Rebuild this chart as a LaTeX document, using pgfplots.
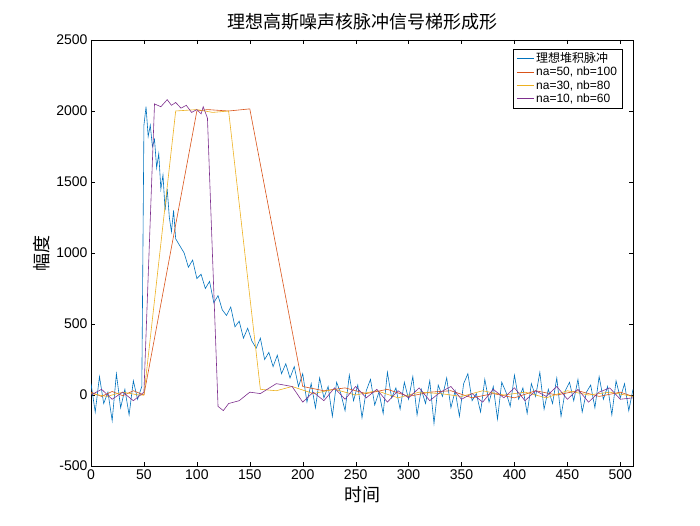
\documentclass[border=0pt]{standalone}
\usepackage{pgfplots}
\pgfplotsset{compat=1.18}
\usepackage{fontspec}
\setmainfont{Liberation Sans}
\newfontfamily\cjk{Noto Sans CJK SC}
\definecolor{mb}{RGB}{0,114,189}
\definecolor{mo}{RGB}{217,83,25}
\definecolor{my}{RGB}{237,177,32}
\definecolor{mp}{RGB}{126,47,142}
\begin{document}
\begin{tikzpicture}[x=1pt,y=1pt]
\useasboundingbox (-91,-59) rectangle (609,466);
\begin{axis}[at={(0,0)},anchor=south west,scale only axis,width=542pt,height=426pt,
 xmin=0,xmax=512,ymin=-500,ymax=2500,
 xtick={0,50,...,500},ytick={-500,0,...,2500},
 tick align=inside, axis line style={black}, tick style={black},
 ticklabel style={font=\fontsize{14}{14}\selectfont},
 /pgf/number format/assume math mode=true,
 scaled ticks=false, yticklabel style={/pgf/number format/1000 sep=},
 title={\cjk\fontsize{18}{18}\selectfont 理想高斯噪声核脉冲信号梯形成形},
 xlabel={\cjk\fontsize{18}{18}\selectfont 时间},
 ylabel={\cjk\fontsize{18}{18}\selectfont 幅度},
 legend style={at={(0.98,0.98)},anchor=north east,font=\fontsize{12}{14}\selectfont,draw=black,row sep=-1pt},
 legend cell align=left,
 every axis plot/.append style={line width=0.6pt}]
\addplot[mb] coordinates {(0,80)(4,-120)(8,130)(12,-60)(16,20)(20,-180)(24,150)(28,-90)(32,40)(36,-140)(40,100)(44,-30)(48,60)
(50,1900)(52,2030)(54,1820)(56,1900)(58,1750)(60,1800)(62,1600)(64,1700)(66,1450)(68,1550)(70,1300)(72,1450)(74,1250)(76,1150)(78,1300)(80,1100)(84,1050)(88,1000)(92,900)(96,950)(100,820)(104,850)(108,750)(112,800)(116,650)(120,700)(124,600)(128,560)(132,620)(136,480)(140,520)(144,400)(148,470)(152,380)(156,330)(160,400)(164,250)(168,300)(172,200)(176,280)(180,150)(184,220)(188,120)(192,200)(196,60)(200,150)(204,-50)(208,80)
(212,-90)(216,120)(220,-20)(224,60)(228,-150)(232,90)(236,10)(240,-110)(244,140)(248,-40)(252,70)(256,-160)(260,30)(264,110)(268,-70)(272,20)(276,-130)(280,160)(284,-20)(288,50)(292,-100)(296,90)(300,-30)(304,130)(308,-140)(312,40)(316,-60)(320,100)(324,-200)(328,70)(332,-10)(336,120)(340,-90)(344,30)(348,-150)(352,80)(356,150)(360,-40)(364,10)(368,-120)(372,110)(376,-50)(380,60)(384,-170)(388,90)(392,20)(396,-80)(400,140)(404,-30)(408,50)(412,-130)(416,80)(420,-10)(424,160)(428,-100)(432,40)(436,-60)(440,120)(444,-150)(448,30)(452,90)(456,-40)(460,110)(464,-120)(468,20)(472,70)(476,-90)(480,130)(484,-30)(488,60)(492,-140)(496,100)(500,-20)(504,80)(508,-110)(512,40)};
\addlegendentry{\cjk 理想堆积脉冲}
\addplot[mo] coordinates {(0,20)(10,-10)(20,25)(30,-5)(40,30)(50,0)(100,2000)(110,2010)(130,2000)(150,2015)(200,60)(220,30)(240,50)(260,10)(280,40)(300,-10)(320,20)(340,30)(360,-20)(380,10)(400,-20)(420,30)(440,0)(460,30)(480,-10)(500,20)(512,-10)};
\addlegendentry{na=50, nb=100}
\addplot[my] coordinates {(0,10)(15,-10)(30,20)(45,0)(50,0)(80,2000)(100,2010)(115,1990)(130,2000)(160,40)(175,30)(190,60)(210,10)(230,40)(250,0)(270,30)(290,-20)(310,20)(330,10)(350,-10)(370,30)(390,0)(410,20)(430,-20)(450,30)(470,0)(490,20)(512,-10)};
\addlegendentry{na=30, nb=80}
\addplot[mp] coordinates {(0,0)(10,40)(20,-30)(30,20)(40,-40)(50,20)(60,2050)(66,2030)(72,2080)(76,2040)(80,2060)(85,2020)(90,2040)(95,1990)(100,2010)(104,1980)(106,2030)(110,1950)(120,-80)(125,-110)(130,-60)(140,-40)(150,20)(160,10)(175,80)(190,60)(200,-50)(210,20)(220,-40)(230,50)(240,-30)(250,60)(260,-20)(270,40)(280,-50)(290,30)(300,-20)(310,50)(320,-40)(330,20)(340,60)(350,-30)(360,10)(370,-50)(380,40)(390,-20)(400,50)(410,-40)(420,30)(430,-10)(440,60)(450,-30)(460,40)(470,-50)(480,20)(490,50)(500,-30)(512,-20)};
\addlegendentry{na=10, nb=60}
\end{axis}
\end{tikzpicture}
\end{document}
